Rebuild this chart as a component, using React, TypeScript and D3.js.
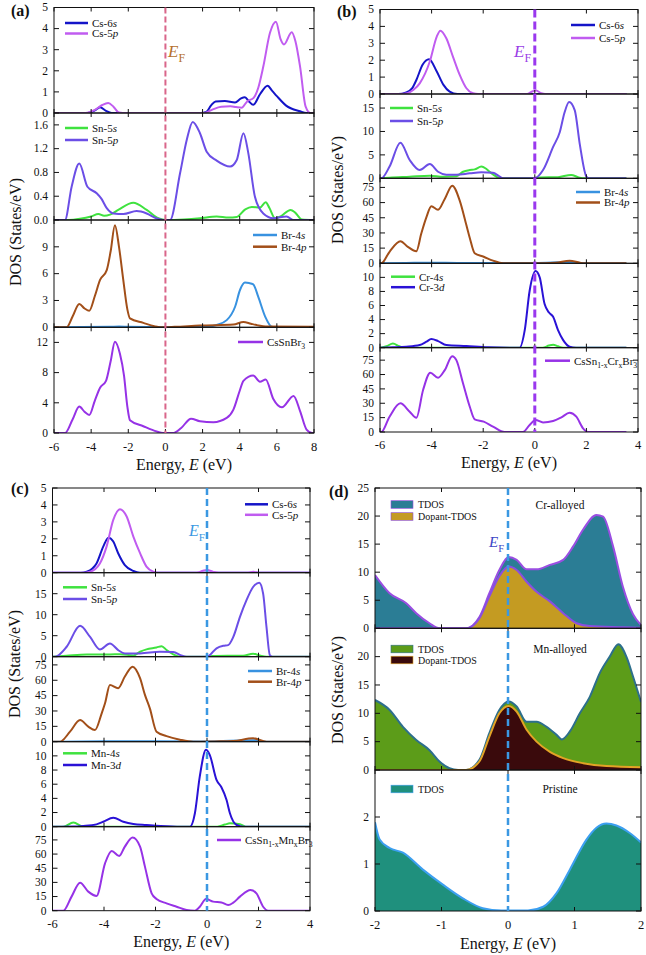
import React from 'react';
import * as d3 from 'd3';

type Pt = [number, number];
type Seg = [string, 'n' | 'i' | 'sub'];

const serif = "'Liberation Serif', 'Times New Roman', serif";

// ---------- panel (a): CsSnBr3 ----------
const aCs6s: Pt[] = [[-6,0],[-4.2,0],[-3.8,0.12],[-3.52,0.27],[-3.2,0.1],[-2.9,0],[1.9,0],[2.2,0.05],[2.45,0.35],[2.7,0.55],[3.2,0.57],[3.75,0.5],[4.05,0.68],[4.28,0.75],[4.5,0.55],[4.73,0.39],[5.1,0.9],[5.5,1.29],[5.75,1.05],[6.0,0.8],[6.5,0.35],[7.25,0.08],[7.6,0],[8,0]];
const aCs5p: Pt[] = [[-6,0],[-4.3,0],[-3.8,0.15],[-3.4,0.38],[-3.08,0.47],[-2.8,0.3],[-2.5,0.02],[-2.3,0],[2.1,0],[2.5,0.15],[3.0,0.3],[3.5,0.32],[3.8,0.28],[4.1,0.25],[4.4,0.55],[4.75,0.72],[5.0,1.2],[5.27,2.2],[5.63,3.8],[5.95,4.33],[6.2,3.5],[6.38,3.25],[6.8,3.83],[7.0,3.4],[7.25,2.2],[7.55,0.3],[7.8,0],[8,0]];
const aSn5s: Pt[] = [[-6,0],[-5.2,0],[-4.6,0.02],[-4.0,0.06],[-3.61,0.1],[-3.3,0.07],[-2.98,0.09],[-2.54,0.17],[-1.73,0.29],[-1.01,0.17],[-0.38,0.03],[0,0],[1.0,0.01],[1.86,0.03],[2.76,0.06],[3.4,0.04],[3.84,0.05],[4.3,0.18],[4.65,0.22],[5.09,0.21],[5.4,0.3],[5.6,0.2],[5.9,0.03],[6.2,0.06],[6.74,0.17],[7.0,0.12],[7.34,0.01],[8,0]];
const aSn5p: Pt[] = [[-6,0],[-5.41,0],[-5.05,0.56],[-4.64,0.95],[-4.2,0.56],[-3.7,0.45],[-3.45,0.36],[-3.16,0.2],[-2.8,0.11],[-2.26,0.1],[-1.55,0.15],[-1.01,0.11],[-0.5,0.03],[-0.13,0],[0.25,0],[0.79,0.79],[1.15,1.35],[1.47,1.65],[1.86,1.46],[2.22,1.15],[2.76,1.0],[3.48,0.9],[3.84,1.01],[4.2,1.46],[4.46,1.13],[4.82,0.39],[5.27,0.11],[5.81,0.03],[6.52,0.06],[6.9,0],[8,0]];
const aBr4s: Pt[] = [[-6,0],[-3,0.05],[-2.5,0.08],[-2,0.05],[0,0],[1.5,0.05],[2.3,0.1],[2.76,0.26],[3.3,0.8],[3.75,2.3],[4.02,4.2],[4.28,5.0],[4.5,4.95],[4.73,4.8],[5.0,3.4],[5.37,1.2],[5.72,0.07],[6,0],[8,0]];
const aBr4p: Pt[] = [[-6,0],[-5.32,0],[-5.0,1.2],[-4.64,2.6],[-4.35,2.1],[-4.1,1.85],[-3.8,3.5],[-3.52,5.3],[-3.16,6.4],[-2.95,8.5],[-2.72,11.4],[-2.5,9.0],[-2.27,5.3],[-2.05,2.0],[-1.91,1.0],[-1.19,0.5],[-0.6,0.12],[-0.29,0],[0.5,0.05],[1.86,0.2],[3.66,0.3],[4.2,0.6],[4.6,0.4],[4.91,0.25],[5.5,0.08],[8,0.05]];
const aTotal: Pt[] = [[-6,0],[-5.41,0],[-5.0,1.8],[-4.64,3.5],[-4.35,2.8],[-4.1,2.4],[-3.8,4.3],[-3.52,6.0],[-3.2,6.9],[-2.95,9.5],[-2.72,12.1],[-2.45,10.5],[-2.23,7.6],[-2.05,3.5],[-1.91,1.7],[-1.19,0.9],[-0.47,0.2],[-0.13,0],[0.4,0],[0.85,0.67],[1.38,1.9],[1.86,1.56],[2.58,1.43],[3.3,2.0],[3.66,3.1],[4.0,5.6],[4.2,6.9],[4.73,7.6],[5.09,6.8],[5.4,7.1],[5.81,4.5],[6.27,3.4],[6.9,4.9],[7.25,2.9],[7.6,0.45],[7.9,0],[8,0]];

// ---------- panel (b): Cr ----------
const bCs6s: Pt[] = [[-6,0],[-5.3,0],[-4.98,0.1],[-4.75,0.35],[-4.59,0.83],[-4.35,1.73],[-4.1,2.06],[-3.8,1.33],[-3.54,0.54],[-3.3,0.14],[-3.0,0],[3.55,0]];
const bCs5p: Pt[] = [[-6,0],[-5.2,0],[-4.94,0.05],[-4.7,0.25],[-4.46,0.63],[-4.07,1.92],[-3.8,3.4],[-3.66,3.75],[-3.43,3.3],[-3.17,2.2],[-2.91,1.13],[-2.65,0.34],[-2.39,0.04],[-2.2,0],[-0.3,0],[-0.1,0.15],[0.05,0.2],[0.25,0.05],[0.4,0],[3.55,0]];
const bSn5s: Pt[] = [[-6,0],[-5.63,0.14],[-4.85,0.35],[-4.07,0.57],[-3.55,0.35],[-3.04,0.45],[-2.78,1.4],[-2.52,1.77],[-2.33,1.9],[-2.07,2.5],[-1.9,2.1],[-1.75,1.4],[-1.49,0.35],[-1.36,0],[0,0],[0.2,0.15],[0.9,0.25],[1.41,0.7],[1.7,0.2],[1.9,0],[3.55,0]];
const bSn5p: Pt[] = [[-6,0],[-5.95,0],[-5.63,2.5],[-5.21,7.57],[-4.85,3.9],[-4.46,1.77],[-4.07,3.04],[-3.75,1.4],[-3.43,0.78],[-3.04,0.78],[-2.52,1.06],[-2.07,1.27],[-1.62,1.2],[-1.4,0.5],[-1.23,0],[-0.1,0],[0.03,0.1],[0.32,1.77],[0.71,6.7],[0.97,9.9],[1.15,14],[1.33,16.3],[1.55,14.5],[1.74,7.4],[2.0,0.35],[2.1,0],[3.55,0]];
const bBr4s: Pt[] = [[-6,0],[-5,0.3],[-4,0.6],[-3,0.4],[0,0.3],[1.35,1.2],[2,0],[3.55,0]];
const bBr4p: Pt[] = [[-6,0],[-5.95,0],[-5.63,11.4],[-5.21,21.8],[-4.92,16.3],[-4.59,12],[-4.4,29.4],[-4.2,45.6],[-4.01,56.4],[-3.75,52.9],[-3.49,63.6],[-3.2,76.7],[-2.91,62],[-2.65,37.5],[-2.52,25],[-2.33,10],[-1.98,6.5],[-1.62,2.6],[-1.23,0],[0,0],[0.8,0.5],[1.35,2.6],[1.75,0.5],[1.9,0],[3.55,0]];
const bCr4s: Pt[] = [[-6,0],[-5.75,0.2],[-5.5,0.6],[-5.25,0.2],[-5.05,0],[0.3,0],[0.55,0.3],[0.71,0.42],[0.9,0.2],[1.1,0],[3.55,0]];
const bCr3d: Pt[] = [[-6,0],[-5.5,0.05],[-4.98,0.14],[-4.46,0.38],[-4.2,0.85],[-4.01,1.22],[-3.75,0.94],[-3.43,0.38],[-2.65,0.23],[-1.8,0.05],[-0.59,0],[-0.39,2.5],[-0.2,8.1],[0.03,10.9],[0.19,10],[0.38,6.2],[0.55,5.0],[0.71,4.4],[0.9,2.5],[1.1,1.08],[1.35,0.14],[1.6,0],[3.55,0]];
const bTotal: Pt[] = [[-6,0],[-5.95,0],[-5.63,16],[-5.21,29.9],[-4.85,21.2],[-4.59,14.9],[-4.33,43.8],[-4.05,61.8],[-3.75,56.6],[-3.49,64.6],[-3.2,79.2],[-3.04,75],[-2.78,50.7],[-2.52,26.4],[-2.33,13.2],[-1.98,10.8],[-1.62,5.6],[-1.17,0],[-0.46,0],[-0.2,7.3],[0.03,12.5],[0.32,10],[0.71,11.5],[1.03,15.3],[1.35,20.1],[1.61,16],[1.87,3.8],[2.06,0],[3.55,0]];

// ---------- panel (c): Mn ----------
const cCs6s: Pt[] = [[-6,0],[-4.9,0],[-4.67,0.06],[-4.45,0.25],[-4.29,0.55],[-4.03,1.54],[-3.83,2.07],[-3.64,1.84],[-3.45,1.15],[-3.19,0.45],[-2.86,0.1],[-2.6,0],[4,0]];
const cCs5p: Pt[] = [[-6,0],[-4.8,0],[-4.54,0.06],[-4.16,0.55],[-3.9,1.54],[-3.64,3.12],[-3.38,3.75],[-3.12,3.32],[-2.86,2.13],[-2.6,1.15],[-2.35,0.36],[-2.09,0.06],[-1.9,0],[-0.4,0],[-0.15,0.12],[0.0,0.16],[0.25,0.05],[0.45,0],[1.6,0],[1.8,0.05],[2.0,0],[4,0]];
const cSn5s: Pt[] = [[-6,0],[-5.45,0.24],[-4.67,0.55],[-3.77,0.55],[-3.38,0.6],[-2.86,0.3],[-2.6,1.18],[-2.35,1.74],[-1.96,2.2],[-1.76,2.5],[-1.57,1.58],[-1.31,0.55],[-1.05,0],[0,0],[0.2,0.15],[1.4,0.25],[1.79,0.7],[2.05,0.3],[2.31,0],[4,0]];
const cSn5p: Pt[] = [[-6,0],[-5.9,0],[-5.45,2.37],[-4.93,7.34],[-4.54,4.7],[-4.16,1.74],[-3.77,3.16],[-3.45,1.58],[-3.19,0.79],[-2.6,0.79],[-1.83,1.18],[-1.31,1.1],[-1.0,0.3],[-0.79,0],[-0.1,0],[0.05,0.15],[0.37,2.0],[0.63,2.6],[0.82,2.76],[1.02,4.7],[1.28,9.5],[1.53,13.4],[1.79,16.6],[2.03,17.6],[2.18,15],[2.31,7.1],[2.44,0.4],[2.55,0],[4,0]];
const cBr4s: Pt[] = [[-6,0],[-4,0.5],[0,0.3],[1.8,1.5],[2.3,0],[4,0]];
const cBr4p: Pt[] = [[-6,0],[-5.71,0],[-5.32,9.8],[-4.93,21.2],[-4.61,14.7],[-4.35,11.4],[-4.09,27.7],[-3.96,37.5],[-3.77,55.4],[-3.45,52.2],[-3.19,63.6],[-2.89,73.3],[-2.6,62],[-2.41,45.7],[-2.22,32.6],[-1.96,9.8],[-1.57,5.5],[-1.05,2.0],[-0.53,0],[0.3,0.3],[1.02,0.7],[1.79,3.3],[2.31,0],[4,0]];
const cMn4s: Pt[] = [[-6,0],[-5.58,0],[-5.19,0.6],[-4.8,0],[0.4,0],[0.7,0.3],[0.89,0.47],[1.28,0.35],[1.5,0],[4,0]];
const cMn3d: Pt[] = [[-6,0],[-5.2,0.02],[-4.8,0.1],[-4.29,0.33],[-4.03,0.7],[-3.64,1.27],[-3.25,0.7],[-2.86,0.38],[-2.35,0.24],[-1.8,0.1],[-1.0,0],[-0.66,0],[-0.47,1.9],[-0.28,7.1],[-0.04,10.85],[0.11,10.1],[0.37,6.6],[0.56,5.57],[0.76,3.77],[0.89,1.9],[1.15,0.24],[1.4,0],[4,0]];
const cTotal: Pt[] = [[-6,0],[-5.58,0],[-5.26,14.9],[-4.93,29.7],[-4.61,20.2],[-4.29,15.6],[-3.96,50.2],[-3.7,63.3],[-3.41,58],[-3.19,67.9],[-2.89,77.5],[-2.6,67.9],[-2.41,46.7],[-2.15,18.4],[-1.96,12.4],[-1.57,7.8],[-1.18,4.2],[-0.79,0.7],[-0.47,0],[-0.28,4.2],[-0.04,12.4],[0.24,9.6],[0.56,8.8],[0.82,6],[1.02,8.5],[1.28,14.9],[1.69,21.9],[1.92,18.4],[2.18,4.2],[2.37,0],[4,0]];

// ---------- panel (d): TDOS comparison ----------
const dCrTdos: Pt[] = [[-2,9.5],[-1.78,6.25],[-1.53,4.46],[-1.38,2.7],[-1.18,0.9],[-1.03,0],[-0.63,0],[-0.43,2],[-0.28,6.25],[-0.13,10.4],[0.01,12.7],[0.13,12.2],[0.28,10.5],[0.43,10.5],[0.63,11.3],[0.83,12.2],[0.98,14.6],[1.13,17.6],[1.33,20.2],[1.43,19.9],[1.58,14.6],[1.73,7.3],[1.88,2.5],[2,0.6]];
const dCrDopant: Pt[] = [[-2,0],[-0.63,0],[-0.43,1.8],[-0.28,5.7],[-0.13,9.3],[0.01,11],[0.13,10.4],[0.28,8.3],[0.43,6.5],[0.63,4.8],[0.83,2.7],[1.03,0.9],[1.23,0.4],[1.73,0.2],[2,0.1]];
const dMnTdos: Pt[] = [[-2,12.35],[-1.78,10.6],[-1.58,7.6],[-1.38,5.3],[-1.18,3.5],[-1.03,1.5],[-0.88,0.3],[-0.75,0],[-0.63,0],[-0.43,1.8],[-0.28,6.5],[-0.13,10.6],[0.01,12.1],[0.13,11.2],[0.28,8.5],[0.43,8.5],[0.58,7.6],[0.73,6.2],[0.81,5.4],[0.93,6.8],[1.08,10],[1.23,12.9],[1.38,17.1],[1.53,20],[1.66,22.2],[1.78,20],[1.88,16.5],[2,12]];
const dMnDopant: Pt[] = [[-2,0],[-0.63,0],[-0.43,1.5],[-0.28,5.9],[-0.13,10],[0.01,11.3],[0.13,10.3],[0.28,7.1],[0.43,5],[0.63,3.2],[0.83,2.1],[1.13,1.2],[1.48,0.7],[2,0.5]];
const dPristine: Pt[] = [[-2,1.89],[-1.93,1.52],[-1.78,1.34],[-1.58,1.24],[-1.28,0.88],[-0.98,0.56],[-0.68,0.27],[-0.38,0.06],[-0.1,0.01],[0.3,0.01],[0.53,0.09],[0.73,0.38],[0.93,0.88],[1.18,1.52],[1.33,1.77],[1.48,1.86],[1.63,1.82],[1.83,1.66],[2,1.46]];

const xTicksWide = [-6, -4, -2, 0, 2, 4, 6, 8];
const xTicksNarrow = [-6, -4, -2, 0, 2, 4];
const xTicksD = [-2, -1, 0, 1, 2];
const csTicks = [0, 1, 2, 3, 4, 5];
const snTicksA = [0, 0.4, 0.8, 1.2, 1.6];
const brTicksA = [0, 3, 6, 9];
const totTicksA = [0, 4, 8, 12];
const snTicks = [0, 5, 10, 15];
const bigTicks = [0, 15, 30, 45, 60, 75];
const dopTicks = [0, 2, 4, 6, 8, 10];
const dTicksTop = [0, 5, 10, 15, 20, 25];
const dTicksMid = [0, 5, 10, 15, 20];
const dTicksBot = [0, 1, 2];

const C = {
  cs6s: '#1414c8', cs5p: '#c05cf0', sn5s: '#3fe23f', sn5p: '#6b4ee6',
  br4s: '#3892e0', br4p: '#a24f19', d3: '#2a12d6', tot: '#9632e6',
};

interface LineS { data: Pt[]; color: string; label: Seg[] }
interface Legend { x: number; y: number; gap: number; len: number }
interface Sub { top: number; bottom: number; ymax: number; ticks: number[]; fmt?: (v: number) => string; lines: LineS[]; legend: Legend }
interface Panel {
  id: string; left: number; right: number; xDomain: [number, number]; xTicks: number[];
  subs: Sub[]; ef: { color: string; width: number; dash: string; labelColor: string; lx: number; ly: number; size: number };
  tag: { x: number; y: number }; yTitle: { x: number; y: number }; xLabelY: number; xTitleY: number;
}

const font = (size: number, extra: any = {}) => ({ fontFamily: serif, fontSize: size, ...extra });

function Txt({ x, y, segs, size, anchor = 'start', fill = '#111' }: { x: number; y: number; segs: Seg[]; size: number; anchor?: string; fill?: string }) {
  let down = false;
  const nodes = segs.map(([t, k], i) => {
    if (k === 'sub') {
      const n = <tspan key={i} dy={size * 0.3} style={{ fontSize: size * 0.7 }}>{t}</tspan>;
      down = true;
      return n;
    }
    const n = <tspan key={i} dy={down ? -size * 0.3 : 0} style={{ fontStyle: k === 'i' ? 'italic' : 'normal' }}>{t}</tspan>;
    down = false;
    return n;
  });
  return <text x={x} y={y} style={font(size)} textAnchor={anchor as any} fill={fill}>{nodes}</text>;
}

function Frame({ x, sub, left, right, xTicks, y }: any) {
  const marks: any[] = [];
  sub.ticks.forEach((t: number, i: number) => {
    const yy = y(t);
    marks.push(<line key={'l' + i} x1={left} x2={left + 5} y1={yy} y2={yy} stroke="#111" />);
    marks.push(<line key={'r' + i} x1={right} x2={right - 5} y1={yy} y2={yy} stroke="#111" />);
    marks.push(<text key={'t' + i} x={left - 6} y={yy + 3.8} style={font(11.5)} textAnchor="end" fill="#111">{sub.fmt ? sub.fmt(t) : String(t)}</text>);
  });
  xTicks.forEach((t: number, i: number) => {
    const xx = x(t);
    marks.push(<line key={'b' + i} x1={xx} x2={xx} y1={sub.bottom} y2={sub.bottom - 4} stroke="#111" />);
    marks.push(<line key={'u' + i} x1={xx} x2={xx} y1={sub.top} y2={sub.top + 4} stroke="#111" />);
  });
  return <g>{marks}<rect x={left} y={sub.top} width={right - left} height={sub.bottom - sub.top} fill="none" stroke="#111" strokeWidth={1} /></g>;
}

function LinePanel({ p }: { p: Panel }) {
  const x = d3.scaleLinear().domain(p.xDomain).range([p.left, p.right]);
  const top = p.subs[0].top;
  const bottom = p.subs[p.subs.length - 1].bottom;
  return (
    <g>
      {p.subs.map((s, si) => {
        const y = d3.scaleLinear().domain([0, s.ymax]).range([s.bottom, s.top]);
        const line = d3.line<Pt>().x(d => x(d[0])).y(d => y(d[1])).curve(d3.curveMonotoneX);
        const clip = `clip-${p.id}-${si}`;
        return (
          <g key={si}>
            <clipPath id={clip}><rect x={p.left} y={s.top} width={p.right - p.left} height={s.bottom - s.top} /></clipPath>
            <g clipPath={`url(#${clip})`}>
              {s.lines.map((l, li) => <path key={li} d={line(l.data) || ''} fill="none" stroke={l.color} strokeWidth={2} />)}
            </g>
            {s.lines.map((l, li) => (
              <g key={'lg' + li}>
                <line x1={s.legend.x} x2={s.legend.x + s.legend.len} y1={s.legend.y + li * s.legend.gap} y2={s.legend.y + li * s.legend.gap} stroke={l.color} strokeWidth={2.5} />
                <Txt x={s.legend.x + s.legend.len + 4} y={s.legend.y + li * s.legend.gap + 3.8} segs={l.label} size={11} />
              </g>
            ))}
            <Frame x={x} y={y} sub={s} left={p.left} right={p.right} xTicks={p.xTicks} />
          </g>
        );
      })}
      <line x1={x(0)} x2={x(0)} y1={top} y2={bottom} stroke={p.ef.color} strokeWidth={p.ef.width} strokeDasharray={p.ef.dash} />
      <Txt x={p.ef.lx} y={p.ef.ly} segs={[['E', 'i'], ['F', 'sub']]} size={p.ef.size} fill={p.ef.labelColor} />
      {p.xTicks.map((t, i) => (
        <text key={i} x={x(t)} y={p.xLabelY} style={font(12.5)} textAnchor="middle" fill="#111">{String(t)}</text>
      ))}
      <Txt x={(p.left + p.right) / 2} y={p.xTitleY} segs={[['Energy, ', 'n'], ['E', 'i'], [' (eV)', 'n']]} size={16} anchor="middle" />
      <text transform={`translate(${p.yTitle.x},${p.yTitle.y}) rotate(-90)`} style={font(16)} textAnchor="middle" fill="#111">DOS (States/eV)</text>
      <text x={p.tag.x} y={p.tag.y} style={font(16, { fontWeight: 'bold' })} fill="#111">{`(${p.id})`}</text>
    </g>
  );
}

const panelA: Panel = {
  id: 'a', left: 54, right: 314, xDomain: [-6, 8], xTicks: xTicksWide,
  subs: [
    { top: 7.5, bottom: 113, ymax: 5, ticks: csTicks, lines: [{ data: aCs6s, color: C.cs6s, label: [['Cs-6', 'n'], ['s', 'i']] }, { data: aCs5p, color: C.cs5p, label: [['Cs-5', 'n'], ['p', 'i']] }], legend: { x: 65, y: 23, gap: 10.5, len: 23 } },
    { top: 113, bottom: 220, ymax: 1.8, ticks: snTicksA, fmt: v => v.toFixed(1), lines: [{ data: aSn5s, color: C.sn5s, label: [['Sn-5', 'n'], ['s', 'i']] }, { data: aSn5p, color: C.sn5p, label: [['Sn-5', 'n'], ['p', 'i']] }], legend: { x: 65, y: 128, gap: 12, len: 23 } },
    { top: 220, bottom: 327.3, ymax: 12, ticks: brTicksA, lines: [{ data: aBr4s, color: C.br4s, label: [['Br-4', 'n'], ['s', 'i']] }, { data: aBr4p, color: C.br4p, label: [['Br-4', 'n'], ['p', 'i']] }], legend: { x: 253, y: 235, gap: 11.7, len: 24 } },
    { top: 327.3, bottom: 433, ymax: 14, ticks: totTicksA, lines: [{ data: aTotal, color: C.tot, label: [['CsSnBr', 'n'], ['3', 'sub']] }], legend: { x: 238, y: 342, gap: 12, len: 25 } },
  ],
  ef: { color: '#d9668a', width: 2, dash: '6,3', labelColor: '#b5702d', lx: 168, ly: 57, size: 17 },
  tag: { x: 11, y: 16 }, yTitle: { x: 21, y: 232 }, xLabelY: 451, xTitleY: 470,
};

const panelB: Panel = {
  id: 'b', left: 380, right: 638, xDomain: [-6, 4], xTicks: xTicksNarrow,
  subs: [
    { top: 9.5, bottom: 94, ymax: 5, ticks: csTicks, lines: [{ data: bCs6s, color: C.cs6s, label: [['Cs-6', 'n'], ['s', 'i']] }, { data: bCs5p, color: C.cs5p, label: [['Cs-5', 'n'], ['p', 'i']] }], legend: { x: 571, y: 25, gap: 13, len: 24 } },
    { top: 94, bottom: 178.3, ymax: 18, ticks: snTicks, lines: [{ data: bSn5s, color: C.sn5s, label: [['Sn-5', 'n'], ['s', 'i']] }, { data: bSn5p, color: C.sn5p, label: [['Sn-5', 'n'], ['p', 'i']] }], legend: { x: 390, y: 108, gap: 13, len: 23 } },
    { top: 178.3, bottom: 263.3, ymax: 84, ticks: bigTicks, lines: [{ data: bBr4s, color: C.br4s, label: [['Br-4', 'n'], ['s', 'i']] }, { data: bBr4p, color: C.br4p, label: [['Br-4', 'n'], ['p', 'i']] }], legend: { x: 576, y: 192, gap: 10.5, len: 24 } },
    { top: 263.3, bottom: 347.7, ymax: 12, ticks: dopTicks, lines: [{ data: bCr4s, color: C.sn5s, label: [['Cr-4', 'n'], ['s', 'i']] }, { data: bCr3d, color: C.d3, label: [['Cr-3', 'n'], ['d', 'i']] }], legend: { x: 391, y: 276.7, gap: 10.5, len: 24 } },
    { top: 347.7, bottom: 432, ymax: 88, ticks: bigTicks, lines: [{ data: bTotal, color: C.tot, label: [['CsSn', 'n'], ['1-x', 'sub'], ['Cr', 'n'], ['x', 'sub'], ['Br', 'n'], ['3', 'sub']] }], legend: { x: 545, y: 360.7, gap: 12, len: 25 } },
  ],
  ef: { color: '#9a38ee', width: 3, dash: '8,4', labelColor: '#9a40e6', lx: 514, ly: 57, size: 17 },
  tag: { x: 337, y: 17 }, yTitle: { x: 343, y: 190 }, xLabelY: 449, xTitleY: 468,
};

const panelC: Panel = {
  id: 'c', left: 52.5, right: 310, xDomain: [-6, 4], xTicks: xTicksNarrow,
  subs: [
    { top: 488, bottom: 572.7, ymax: 5, ticks: csTicks, lines: [{ data: cCs6s, color: C.cs6s, label: [['Cs-6', 'n'], ['s', 'i']] }, { data: cCs5p, color: C.cs5p, label: [['Cs-5', 'n'], ['p', 'i']] }], legend: { x: 245, y: 504.3, gap: 10.5, len: 23 } },
    { top: 572.7, bottom: 656.7, ymax: 20, ticks: snTicks, lines: [{ data: cSn5s, color: C.sn5s, label: [['Sn-5', 'n'], ['s', 'i']] }, { data: cSn5p, color: C.sn5p, label: [['Sn-5', 'n'], ['p', 'i']] }], legend: { x: 63, y: 587.3, gap: 11.7, len: 24 } },
    { top: 656.7, bottom: 741.7, ymax: 83, ticks: bigTicks, lines: [{ data: cBr4s, color: C.br4s, label: [['Br-4', 'n'], ['s', 'i']] }, { data: cBr4p, color: C.br4p, label: [['Br-4', 'n'], ['p', 'i']] }], legend: { x: 248, y: 671, gap: 10.7, len: 24 } },
    { top: 741.7, bottom: 826.7, ymax: 12, ticks: dopTicks, lines: [{ data: cMn4s, color: C.sn5s, label: [['Mn-4', 'n'], ['s', 'i']] }, { data: cMn3d, color: C.d3, label: [['Mn-3', 'n'], ['d', 'i']] }], legend: { x: 63, y: 753.3, gap: 11.7, len: 24 } },
    { top: 826.7, bottom: 910.7, ymax: 89, ticks: bigTicks, lines: [{ data: cTotal, color: C.tot, label: [['CsSn', 'n'], ['1-x', 'sub'], ['Mn', 'n'], ['x', 'sub'], ['Br', 'n'], ['3', 'sub']] }], legend: { x: 217, y: 840, gap: 12, len: 24 } },
  ],
  ef: { color: '#3b98e2', width: 2.5, dash: '7,4', labelColor: '#3b98e2', lx: 189, ly: 536, size: 16 },
  tag: { x: 11, y: 494 }, yTitle: { x: 20, y: 664 }, xLabelY: 928, xTitleY: 947,
};

// ---------- panel (d) ----------
interface AreaS { data: Pt[]; fill: string; stroke: string; label: string }
interface DSub { top: number; bottom: number; ymax: number; ticks: number[]; areas: AreaS[]; note: string; legendY: number[] }

const dSubs: DSub[] = [
  { top: 488, bottom: 628.3, ymax: 25, ticks: dTicksTop, note: 'Cr-alloyed', legendY: [504.5, 516.5],
    areas: [{ data: dCrTdos, fill: '#2b7d95', stroke: '#9a4ee2', label: 'TDOS' }, { data: dCrDopant, fill: '#c49b22', stroke: '#8a4ee0', label: 'Dopant-TDOS' }] },
  { top: 628.3, bottom: 770, ymax: 25, ticks: dTicksMid, note: 'Mn-alloyed', legendY: [649, 660],
    areas: [{ data: dMnTdos, fill: '#5c9c19', stroke: '#2d6f8c', label: 'TDOS' }, { data: dMnDopant, fill: '#3a0a0c', stroke: '#e3a326', label: 'Dopant-TDOS' }] },
  { top: 770, bottom: 911, ymax: 3, ticks: dTicksBot, note: 'Pristine', legendY: [789],
    areas: [{ data: dPristine, fill: '#1f907d', stroke: '#3c9ff0', label: 'TDOS' }] },
];

function PanelD() {
  const left = 375, right = 641;
  const x = d3.scaleLinear().domain([-2, 2]).range([left, right]);
  return (
    <g>
      {dSubs.map((s, si) => {
        const y = d3.scaleLinear().domain([0, s.ymax]).range([s.bottom, s.top]);
        const area = d3.area<Pt>().x(d => x(d[0])).y0(y(0)).y1(d => y(d[1])).curve(d3.curveMonotoneX);
        const line = d3.line<Pt>().x(d => x(d[0])).y(d => y(d[1])).curve(d3.curveMonotoneX);
        const clip = `clip-d-${si}`;
        return (
          <g key={si}>
            <clipPath id={clip}><rect x={left} y={s.top} width={right - left} height={s.bottom - s.top} /></clipPath>
            <g clipPath={`url(#${clip})`}>
              {s.areas.map((a, ai) => (
                <g key={ai}>
                  <path d={area(a.data) || ''} fill={a.fill} />
                  <path d={line(a.data) || ''} fill="none" stroke={a.stroke} strokeWidth={2} />
                </g>
              ))}
            </g>
            {s.areas.map((a, ai) => (
              <g key={'lg' + ai}>
                <rect x={391} y={s.legendY[ai] - 3.8} width={22} height={7.6} fill={a.fill} stroke={a.stroke} strokeWidth={0.6} />
                <text x={418} y={s.legendY[ai] + 3.5} style={font(10)} fill="#111">{a.label}</text>
              </g>
            ))}
            <text x={560} y={s.legendY[0] + 4} style={font(11.5)} textAnchor="middle" fill="#111">{s.note}</text>
            <Frame x={x} y={y} sub={s} left={left} right={right} xTicks={xTicksD} />
          </g>
        );
      })}
      <line x1={x(0)} x2={x(0)} y1={488} y2={911} stroke="#3b98e2" strokeWidth={2.5} strokeDasharray="7,4" />
      <Txt x={489} y={547} segs={[['E', 'i'], ['F', 'sub']]} size={15} fill="#3c45c6" />
      {xTicksD.map((t, i) => (
        <text key={i} x={x(t)} y={929} style={font(12.5)} textAnchor="middle" fill="#111">{String(t)}</text>
      ))}
      <Txt x={(left + right) / 2} y={949} segs={[['Energy, ', 'n'], ['E', 'i'], [' (eV)', 'n']]} size={16} anchor="middle" />
      <text transform="translate(343,690) rotate(-90)" style={font(16)} textAnchor="middle" fill="#111">DOS (States/eV)</text>
      <text x={329} y={497} style={font(16, { fontWeight: 'bold' })} fill="#111">(d)</text>
    </g>
  );
}

export default function App() {
  return (
    <svg width={646} height={955} style={{ position: 'absolute', left: 0, top: 0, background: '#fff' }}>
      <rect x={0} y={0} width={646} height={955} fill="#fff" />
      <LinePanel p={panelA} />
      <LinePanel p={panelB} />
      <LinePanel p={panelC} />
      <PanelD />
    </svg>
  );
}
